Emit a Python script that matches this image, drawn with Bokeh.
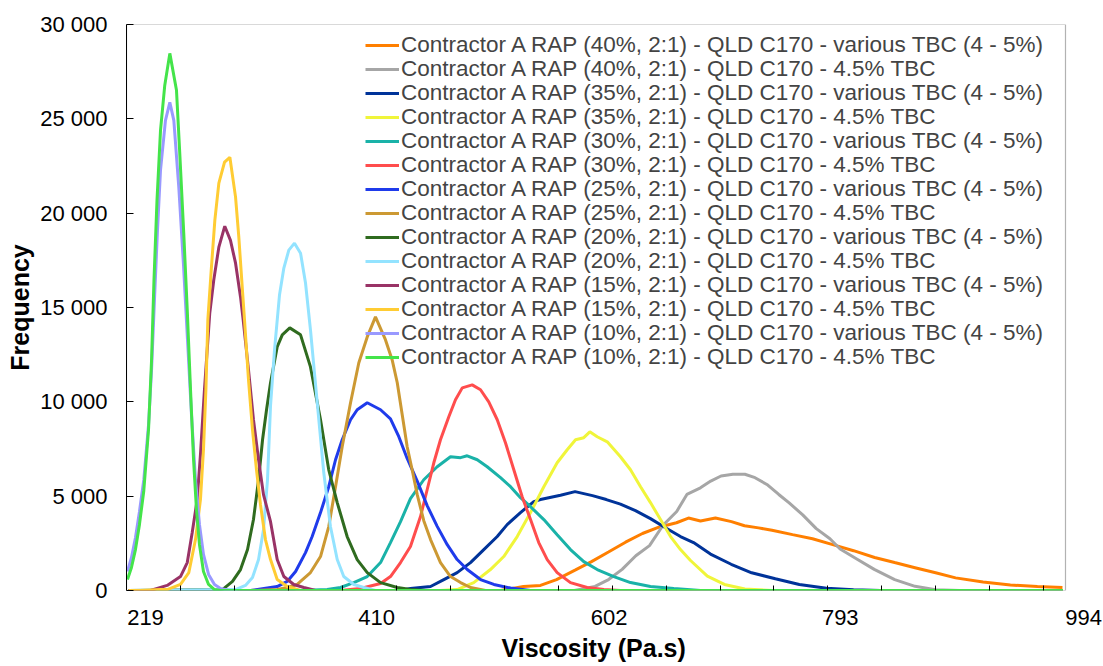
from bokeh.plotting import figure
from bokeh.models import FixedTicker, Legend, LegendItem, Range1d, BoxAnnotation, Title
from bokeh.embed import file_html
from bokeh.resources import INLINE

# Viscosity (Pa.s) / frequency pairs for each blend
visc_40_var = [205.0, 512.3, 531.3, 545.3, 558.6, 574.3, 587.5, 601.5, 615.6, 629.6, 643.7, 657.7, 667.6, 677.5, 689.9, 703.1, 713.9, 725.5, 736.6, 753.6, 770.1, 787.5, 804.0, 821.4, 837.9, 854.8, 871.8, 888.3, 911.0, 933.6, 955.9, 976.6]
freq_40_var = [0, 0, 210, 270, 580, 1090, 1530, 2040, 2560, 3020, 3370, 3590, 3840, 3680, 3840, 3650, 3430, 3320, 3190, 2960, 2740, 2420, 2110, 1750, 1480, 1210, 940, 670, 450, 290, 210, 160]

visc_40_tbc = [205.0, 573.4, 590.4, 601.6, 612.8, 624.1, 635.4, 646.6, 657.9, 666.3, 677.5, 686.0, 694.5, 704.3, 714.2, 722.6, 732.4, 742.2, 750.8, 762.0, 773.2, 784.5, 792.9, 807.0, 821.1, 838.0, 854.8, 871.7, 891.4, 977.0]
freq_40_tbc = [0, 0, 220, 580, 1120, 1840, 2380, 3460, 4190, 5090, 5440, 5800, 6070, 6160, 6160, 5980, 5620, 5090, 4640, 4010, 3280, 2740, 2200, 1660, 1120, 580, 220, 40, 0, 0]

visc_35_var = [205.0, 429.7, 437.9, 454.5, 465.5, 476.5, 487.5, 498.5, 509.6, 517.8, 528.8, 539.8, 545.3, 561.9, 573.9, 588.3, 599.7, 611.4, 623.8, 636.2, 648.6, 661.0, 671.8, 685.8, 702.9, 719.8, 739.4, 759.2, 781.7, 804.0, 826.2, 977.0]
freq_35_var = [0, 0, 110, 210, 580, 950, 1480, 2170, 2860, 3490, 4130, 4710, 4820, 5050, 5240, 5030, 4820, 4580, 4230, 3810, 3330, 2860, 2540, 1930, 1390, 940, 620, 320, 120, 40, 0, 0]

visc_35_tbc = [205.0, 462.7, 476.5, 490.2, 504.0, 515.0, 526.1, 537.1, 548.1, 559.1, 567.4, 574.3, 581.1, 586.1, 592.2, 600.5, 611.4, 619.7, 628.0, 636.2, 644.5, 652.8, 661.0, 669.3, 683.2, 697.3, 714.2, 736.6, 977.0]
freq_35_tbc = [0, 0, 50, 420, 1110, 1800, 2860, 4130, 5500, 6770, 7460, 7990, 8100, 8410, 8150, 7880, 7090, 6400, 5500, 4660, 3760, 2860, 2170, 1590, 760, 320, 80, 0, 0]

visc_30_var = [205.0, 347.1, 369.1, 380.1, 391.1, 402.2, 413.2, 421.4, 429.7, 437.9, 448.9, 460.0, 471.0, 479.3, 484.8, 493.1, 501.3, 512.3, 520.6, 528.8, 537.1, 548.1, 559.1, 570.1, 581.1, 592.2, 605.9, 619.7, 636.2, 655.5, 677.5, 977.0]
freq_30_var = [0, 0, 50, 160, 420, 740, 1480, 2540, 3650, 4870, 5870, 6560, 7090, 7040, 7140, 6930, 6560, 5980, 5500, 4920, 4440, 3760, 2960, 2170, 1530, 1110, 740, 420, 210, 110, 0, 0]

visc_30_tbc = [205.0, 380.1, 396.6, 413.2, 421.4, 429.7, 437.9, 446.2, 451.7, 457.2, 462.7, 469.6, 475.1, 480.7, 488.9, 495.8, 502.6, 509.6, 516.4, 523.3, 530.2, 537.1, 543.9, 550.9, 559.1, 570.1, 583.9, 597.7, 611.4, 977.0]
freq_30_tbc = [0, 0, 110, 370, 740, 1480, 2330, 3920, 5340, 6770, 7990, 9210, 10110, 10740, 10900, 10640, 10000, 9050, 7830, 6400, 4970, 3760, 2540, 1640, 950, 420, 160, 50, 0, 0]

visc_25_var = [205.0, 305.8, 322.3, 327.8, 336.1, 343.0, 351.2, 356.7, 363.6, 370.4, 376.0, 381.5, 388.4, 393.9, 402.2, 413.2, 421.4, 428.3, 435.2, 443.5, 451.7, 460.0, 468.3, 476.5, 484.8, 495.8, 506.8, 520.6, 537.1, 977.0]
freq_25_var = [0, 0, 160, 210, 480, 1010, 2010, 2860, 4130, 5500, 6930, 7990, 9050, 9580, 9950, 9580, 9100, 8150, 7000, 5800, 4500, 3400, 2430, 1640, 1110, 580, 320, 130, 0, 0]

visc_25_tbc = [205.0, 305.8, 327.8, 336.1, 344.3, 355.3, 363.6, 370.4, 376.0, 381.5, 388.4, 395.2, 402.2, 409.0, 417.3, 422.8, 427.0, 431.1, 435.2, 439.3, 443.5, 448.9, 454.5, 462.7, 471.0, 479.3, 487.5, 499.9, 977.0]
freq_25_tbc = [0, 0, 50, 160, 320, 950, 1800, 3390, 5500, 7620, 9950, 12060, 13440, 14500, 13280, 12220, 11010, 9310, 7620, 6400, 5080, 3700, 2700, 1480, 740, 420, 160, 0, 0]

visc_20_var = [205.0, 282.6, 290.9, 297.5, 303.3, 308.2, 312.4, 315.7, 319.0, 322.3, 327.8, 332.0, 338.2, 347.1, 355.3, 363.6, 370.4, 377.4, 385.6, 393.9, 402.2, 413.2, 427.0, 438.0, 450.4, 977.0]
freq_20_var = [0, 50, 480, 1110, 2170, 3760, 5870, 7990, 9580, 11010, 12910, 13550, 13920, 13550, 11850, 9050, 6400, 4660, 2860, 1640, 950, 420, 160, 50, 0, 0]

visc_20_tbc = [205.0, 293.4, 301.6, 307.4, 312.4, 316.5, 319.8, 322.3, 325.6, 329.7, 333.3, 337.4, 342.1, 347.1, 351.2, 355.3, 360.9, 366.3, 371.8, 377.4, 382.8, 391.1, 399.4, 409.0, 977.0]
freq_20_tbc = [0, 50, 270, 690, 1640, 3230, 5870, 9800, 12750, 15660, 17090, 18040, 18410, 17880, 16300, 13810, 9950, 6240, 3390, 1640, 740, 320, 160, 0, 0]

visc_15_var = [205.0, 223.1, 236.9, 247.9, 253.5, 257.6, 261.7, 264.4, 267.7, 272.1, 275.4, 279.6, 284.5, 289.2, 293.4, 297.5, 299.7, 304.1, 308.2, 312.4, 316.5, 322.3, 327.8, 333.3, 341.5, 349.8, 359.5, 977.0]
freq_15_var = [0, 0, 270, 740, 1480, 3070, 4820, 7200, 10640, 14710, 16460, 18200, 19310, 18560, 17350, 15560, 14340, 11690, 9050, 6930, 5080, 3650, 1640, 740, 320, 160, 0, 0]

visc_15_tbc = [205.0, 214.9, 231.4, 236.9, 247.9, 254.8, 260.3, 264.4, 266.9, 268.9, 270.5, 273.3, 276.3, 279.6, 284.3, 288.7, 293.4, 296.1, 298.9, 300.8, 304.1, 307.4, 310.7, 314.0, 318.1, 322.3, 327.8, 336.1, 347.1, 977.0]
freq_15_tbc = [0, 0, 50, 50, 320, 950, 2700, 4820, 7460, 10640, 14340, 16980, 19630, 21590, 22700, 22960, 20850, 18730, 16090, 14340, 11160, 8520, 6400, 4550, 2700, 1640, 580, 210, 0, 0]

visc_10_var = [204.1, 207.4, 210.7, 214.0, 217.6, 221.5, 224.0, 226.4, 228.9, 231.4, 235.5, 239.1, 242.4, 246.5, 250.4, 253.7, 257.0, 260.3, 263.6, 266.9, 271.1, 276.0, 281.0, 287.6, 977.0]
freq_10_var = [1010, 1750, 2800, 4180, 5870, 8780, 11690, 15400, 19100, 22280, 24920, 25870, 24920, 21380, 17250, 13280, 9310, 5870, 3490, 1910, 850, 320, 110, 0, 0]

visc_10_tbc = [204.1, 207.4, 210.7, 214.0, 217.6, 221.5, 224.0, 226.0, 228.5, 231.4, 234.9, 239.1, 244.6, 247.3, 250.6, 253.5, 256.2, 258.7, 261.1, 263.6, 266.9, 271.1, 276.0, 281.0, 977.0]
freq_10_tbc = [580, 1220, 2170, 3490, 5290, 8520, 12220, 16460, 20690, 24390, 26770, 28470, 26510, 23180, 18940, 14870, 10640, 6930, 4290, 2430, 1010, 320, 50, 0, 0]

series_names = [
    "Contractor A RAP (40%, 2:1) - QLD C170 - various TBC (4 - 5%)",
    "Contractor A RAP (40%, 2:1) - QLD C170 - 4.5% TBC",
    "Contractor A RAP (35%, 2:1) - QLD C170 - various TBC (4 - 5%)",
    "Contractor A RAP (35%, 2:1) - QLD C170 - 4.5% TBC",
    "Contractor A RAP (30%, 2:1) - QLD C170 - various TBC (4 - 5%)",
    "Contractor A RAP (30%, 2:1) - QLD C170 - 4.5% TBC",
    "Contractor A RAP (25%, 2:1) - QLD C170 - various TBC (4 - 5%)",
    "Contractor A RAP (25%, 2:1) - QLD C170 - 4.5% TBC",
    "Contractor A RAP (20%, 2:1) - QLD C170 - various TBC (4 - 5%)",
    "Contractor A RAP (20%, 2:1) - QLD C170 - 4.5% TBC",
    "Contractor A RAP (15%, 2:1) - QLD C170 - various TBC (4 - 5%)",
    "Contractor A RAP (15%, 2:1) - QLD C170 - 4.5% TBC",
    "Contractor A RAP (10%, 2:1) - QLD C170 - various TBC (4 - 5%)",
    "Contractor A RAP (10%, 2:1) - QLD C170 - 4.5% TBC",
]
series_x = [visc_40_var, visc_40_tbc, visc_35_var, visc_35_tbc, visc_30_var, visc_30_tbc,
            visc_25_var, visc_25_tbc, visc_20_var, visc_20_tbc, visc_15_var, visc_15_tbc,
            visc_10_var, visc_10_tbc]
series_y = [freq_40_var, freq_40_tbc, freq_35_var, freq_35_tbc, freq_30_var, freq_30_tbc,
            freq_25_var, freq_25_tbc, freq_20_var, freq_20_tbc, freq_15_var, freq_15_tbc,
            freq_10_var, freq_10_tbc]

x_tick_labels = [219, 410, 602, 793, 994]
y_ticks = [0, 5000, 10000, 15000, 20000, 25000, 30000]

colors = ["#FF7F00", "#A6A6A6", "#003399", "#F0F53A", "#1AB2A8", "#FF4D4D", "#1F3BEB",
          "#CC9933", "#2F6B1F", "#93E3FF", "#993366", "#FFCC33", "#9999FF", "#44E44A"]

FONT = "Liberation Sans"
X_START = 203.3     # left edge of the plotting box
X_BOX_END = 979.1   # right edge of the drawn box
X_END = 1010.5      # canvas room so the last category label fits

p = figure(width=1103, height=666, x_range=Range1d(X_START, X_END), y_range=Range1d(0, 30000),
           output_backend="svg", toolbar_location=None,
           min_border_left=126, min_border_right=0, min_border_top=24, min_border_bottom=75)
p.xgrid.visible = False
p.ygrid.visible = False
p.outline_line_color = None
p.background_fill_color = "white"
p.border_fill_color = "white"

# plot-area box (bottom, right and top edges)
p.add_layout(BoxAnnotation(left=X_START, right=X_BOX_END, bottom=0, top=30000,
                           fill_alpha=0, line_color="black", line_width=1.2, level="underlay"))

# one legend row per series, stacked at a fixed 24 px pitch
ROW_PITCH = 24
n = len(series_names)
for i, (name, xs, ys, c) in enumerate(zip(series_names, series_x, series_y, colors)):
    r = p.line(xs, ys, line_color=c, line_width=3)
    row = Legend(items=[LegendItem(label=name, renderers=[r])],
                 location=(239, 220 + ROW_PITCH * (n - 1 - i)), padding=0, margin=0,
                 glyph_width=34, glyph_height=24, label_height=24, label_standoff=2,
                 label_text_font=FONT, label_text_font_size="22.5px",
                 border_line_color=None, background_fill_alpha=0)
    p.add_layout(row)

# category tick marks every 10 bins, labels every ~43 bins
tick_step = 44.58
minor_marks = [round(X_START + tick_step * k, 2) for k in range(1, 18)]
xa = p.xaxis[0]
xa.ticker = FixedTicker(ticks=x_tick_labels, minor_ticks=minor_marks)
xa.major_tick_line_color = None
xa.minor_tick_in = 5
xa.minor_tick_out = 0
xa.minor_tick_line_color = "black"
xa.axis_line_color = None
xa.major_label_text_font = FONT
xa.major_label_text_font_size = "22px"
xa.major_label_text_color = "black"
xa.major_label_standoff = 13

# x-axis title, centred under the box rather than the full canvas width
p.add_layout(Title(text="Viscosity (Pa.s)", align="left", offset=375, standoff=9,
                   text_font=FONT, text_font_size="25px", text_font_style="bold",
                   text_color="black"), "below")

ya = p.yaxis[0]
ya.ticker = FixedTicker(ticks=y_ticks)
ya.major_label_overrides = {v: f"{v:,}".replace(",", " ") for v in y_ticks}
ya.major_tick_in = 7
ya.major_tick_out = 0
ya.major_tick_line_color = "black"
ya.minor_tick_line_color = None
ya.axis_line_color = "black"
ya.major_label_text_font = FONT
ya.major_label_text_font_size = "22px"
ya.major_label_text_color = "black"
ya.major_label_standoff = 19
ya.axis_label = "Frequency"
ya.axis_label_text_font = FONT
ya.axis_label_text_font_size = "25px"
ya.axis_label_text_font_style = "bold"
ya.axis_label_text_color = "black"
ya.axis_label_standoff = 3

open("out.html", "w").write(file_html(p, INLINE))
